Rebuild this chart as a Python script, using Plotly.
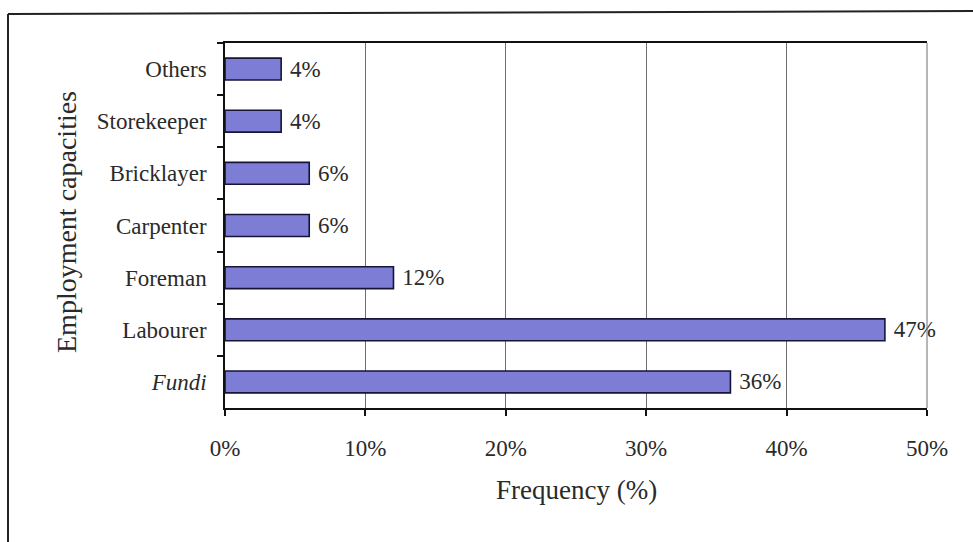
import plotly.graph_objects as go

categories = ["Others", "Storekeeper", "Bricklayer", "Carpenter", "Foreman", "Labourer", "<i>Fundi</i>"]
frequency = [4, 4, 6, 6, 12, 47, 36]
x_ticks = [0, 10, 20, 30, 40, 50]
x_tick_labels = ["0%", "10%", "20%", "30%", "40%", "50%"]

W, H = 973, 542
L, R, T, B = 225, 46, 43, 134
pw, ph = W - L - R, H - T - B

def px_x(px):
    return (px - L) / pw

def px_y(py):
    return (H - B - py) / ph

FONT = "Liberation Serif"
TXT = "#2a2a2a"

fig = go.Figure()
fig.add_trace(go.Bar(
    y=categories,
    x=frequency,
    orientation="h",
    marker=dict(color="#7d7dd6", line=dict(color="#15153a", width=1.6)),
    text=[f" {v}%" for v in frequency],
    textposition="outside",
    constraintext="none",
    textfont=dict(family=FONT, size=23, color=TXT),
    cliponaxis=False,
    width=0.42,
))

fig.update_layout(
    width=W, height=H,
    margin=dict(l=L, r=R, t=T, b=B),
    paper_bgcolor="white",
    plot_bgcolor="white",
    showlegend=False,
    font=dict(family=FONT, size=23, color=TXT),
    xaxis=dict(
        range=[0, 50],
        tickvals=x_ticks,
        ticktext=x_tick_labels,
        showgrid=True, gridcolor="#6e6e6e", gridwidth=1,
        showline=True, linecolor="#111", linewidth=1.5, mirror=True,
        ticks="outside", ticklen=6, tickcolor="#111", tickwidth=1.5,
        ticklabelstandoff=13,
        zeroline=False,
        tickfont=dict(family=FONT, size=23, color=TXT),
        fixedrange=True,
    ),
    yaxis=dict(
        autorange="reversed",
        showline=True, linecolor="#111", linewidth=1.5,
        ticks="outside", ticklen=6, tickcolor="#111", tickwidth=1.5,
        tickson="boundaries",
        showgrid=False,
        ticklabelstandoff=12,
        tickfont=dict(family=FONT, size=23, color=TXT),
        fixedrange=True,
    ),
    shapes=[
        dict(type="line", xref="paper", yref="paper", x0=1, x1=1, y0=0, y1=1,
             line=dict(color="#6e6e6e", width=1)),
        dict(type="line", xref="paper", yref="paper", x0=px_x(8), x1=px_x(975), y0=px_y(14), y1=px_y(11),
             line=dict(color="#222", width=2)),
        dict(type="line", xref="paper", yref="paper", x0=px_x(8), x1=px_x(8), y0=px_y(14), y1=px_y(545),
             line=dict(color="#222", width=2)),
    ],
    annotations=[
        dict(text="Employment capacities", xref="paper", yref="paper",
             x=px_x(66), y=px_y(222), textangle=-90, showarrow=False,
             xanchor="center", yanchor="middle",
             font=dict(family=FONT, size=28, color=TXT)),
        dict(text="Frequency (%)", xref="paper", yref="paper",
             x=px_x(576), y=px_y(490), showarrow=False,
             xanchor="center", yanchor="middle",
             font=dict(family=FONT, size=27, color=TXT)),
    ],
)

fig.write_html("out.html")
